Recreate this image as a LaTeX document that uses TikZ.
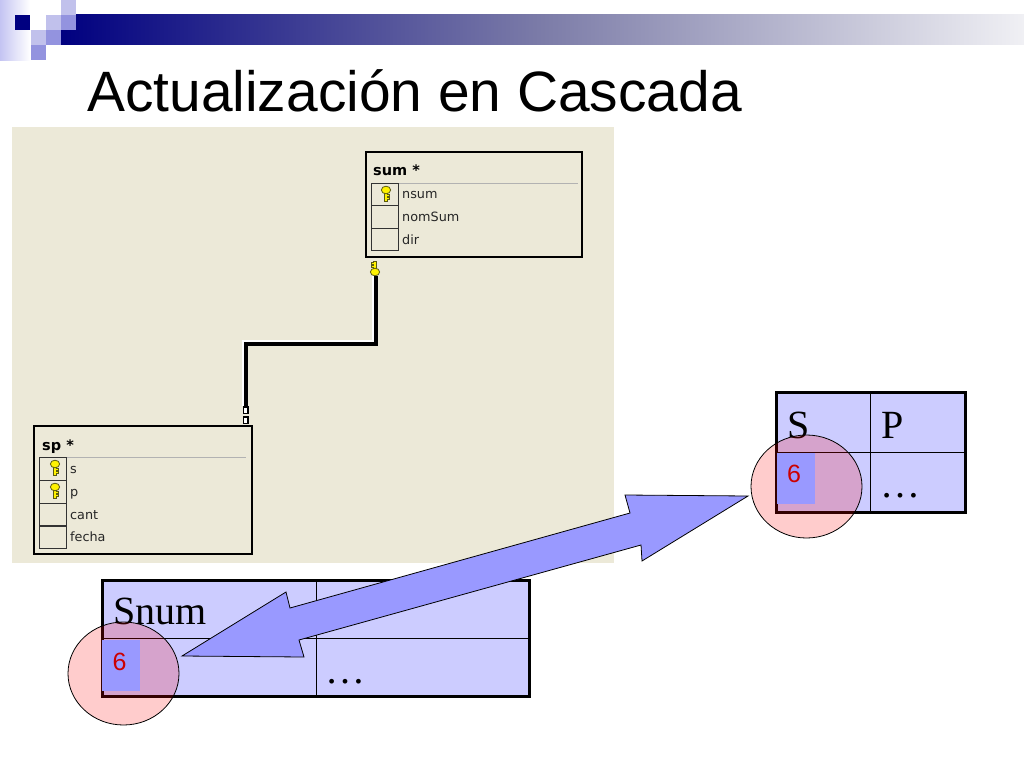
\documentclass[tikz,border=0pt]{standalone}
\usepackage{fontspec}
\newfontfamily\titlefont{Liberation Sans}
\newfontfamily\cellfont{Liberation Serif}
\newfontfamily\dbfont{DejaVu Sans}
\definecolor{navybar}{HTML}{000080}
\definecolor{barmid}{HTML}{7C7CA8}
\definecolor{barend}{HTML}{F0F0F4}
\definecolor{paleblue}{HTML}{CCCCFF}
\definecolor{midblue}{HTML}{9999FF}
\definecolor{panel}{HTML}{ECE9D8}
\definecolor{sixred}{HTML}{CC0000}
\definecolor{keyedge}{HTML}{5A5A10}
\tikzset{
  tablebox/.style={draw=black,line width=3pt,fill=paleblue,anchor=north west,inner sep=0pt,outer sep=0pt},
  dbbox/.style={draw=black,line width=1.2pt,anchor=north west,inner sep=0pt,outer sep=0pt},
  cellhead/.style={anchor=base west,inner sep=0pt,font=\cellfont\fontsize{40}{40}\selectfont},
  dbhead/.style={anchor=base west,inner sep=0pt,font=\dbfont\bfseries\fontsize{14.5}{15}\selectfont},
  dbrow/.style={anchor=base west,inner sep=0pt,font=\dbfont\fontsize{12.8}{14}\selectfont,text=black!85},
  ring/.style={draw=black,line width=.8pt,fill=red,fill opacity=.2,ellipse,inner sep=0pt,outer sep=0pt,minimum width=111pt,minimum height=103pt},
  valbox/.style={fill=midblue,anchor=north west,inner sep=0pt,outer sep=0pt,minimum width=38pt,minimum height=51pt},
  sixlabel/.style={inner sep=0pt,text=sixred,font=\titlefont\fontsize{25}{25}\selectfont},
  keyicon/.pic={
    \draw[draw=keyedge,fill=yellow,line width=.8pt] (-1.6,-1) -- (-1.6,8) -- (1.6,8) -- (1.6,6.5) -- (3.4,6.5) -- (3.4,4.6) -- (1.6,4.6) -- (1.6,3.4) -- (3.4,3.4) -- (3.4,1.6) -- (1.6,1.6) -- (1.6,-1) -- cycle;
    \draw[draw=keyedge,fill=yellow,line width=.8pt] (0,-3) ellipse (4.6 and 3.8);
  }
}
\usetikzlibrary{shapes.geometric}
\begin{document}
\begin{tikzpicture}[x=1pt,y=-1pt]
  \useasboundingbox (0,0) rectangle (1024,768);
  \shade[left color=paleblue!90!gray,right color=white] (0,0) rectangle (30,60);
  \shade[left color=navybar,right color=barend,middle color=barmid] (61,15) rectangle (1024,45);
  \fill[navybar] (15,15) rectangle (30,30);
  \fill[white] (30,15) rectangle (46,30);
  \fill[paleblue!85!gray] (46,15) rectangle (61,30);
  \fill[paleblue!85!gray] (61,0) rectangle (76,15);
  \fill[midblue!75!gray] (61,15) rectangle (76,30);
  \fill[paleblue!85!gray] (31,30) rectangle (46,45);
  \fill[midblue!75!gray] (46,30) rectangle (61,45);
  \fill[midblue!75!gray] (31,45) rectangle (46,60);
  \node (title) [anchor=base west,inner sep=0pt,font=\titlefont\fontsize{56.9}{60}\selectfont] at (87,111) {Actualización en Cascada};

  \fill[panel] (12,127) rectangle (614,563);
  \node (sumtab) [dbbox,minimum width=216pt,minimum height=105pt] at (366,152) {};
  \node (sumhead) [dbhead] at (373,175.5) {sum *};
  \draw[black!30,line width=1pt] (372,183) -- (578,183);
  \foreach \y in {183,205.5,228}
    \draw[black!80] (371,\y) rectangle (398,\y+22.5);
  \pic at (386,193) {keyicon};
  \node (nsum) [dbrow] at (402,198) {nsum};
  \node (nomsum) [dbrow] at (402,221) {nomSum};
  \node (dir) [dbrow] at (402,244) {dir};

  \node (sptab) [dbbox,minimum width=218pt,minimum height=128pt] at (34,426) {};
  \node (sphead) [dbhead] at (42,450) {sp *};
  \draw[black!30,line width=1pt] (40,457) -- (246,457);
  \foreach \y in {457,480,503,525.5}
    \draw[black!80] (39,\y) rectangle (66,\y+22.7);
  \pic at (55,467) {keyicon};
  \pic at (55,490) {keyicon};
  \node (s) [dbrow] at (70,473) {s};
  \node (p) [dbrow] at (70,496) {p};
  \node (cant) [dbrow] at (70,519) {cant};
  \node (fecha) [dbrow] at (70,541) {fecha};

  \coordinate (relsum) at (376,276);
  \coordinate (relsp) at (246,406);
  \draw[white,line width=1.2pt] ([shift={(-3,0)}]relsum) -- ++(0,65) -| ([shift={(-3,0)}]relsp);
  \draw[black,line width=4.3pt] (relsum) -- ++(0,68) -| (relsp);
  \pic[rotate=180] at (375,269) {keyicon};
  \foreach \y in {407,417}
    \draw[black,fill=white,line width=1.2pt] (243.5,\y) rectangle (248,\y+6.5);

  \node (snumtab) [tablebox,minimum width=427pt,minimum height=116pt] at (102,580) {};
  \node (snum) [cellhead] at (113,624) {Snum};
  \node (dotsa) [cellhead] at (325,683) {…};
  \draw[black,line width=1pt] (316,580) -- (316,696);
  \draw[black,line width=1pt] (102,638) -- (529,638);
  \node (ringa) [ring] at (123.5,673.5) {};
  \node (vala) [valbox] at (102,640) {};
  \node (sixa) [sixlabel] at (119.5,662) {6};

  \node (sptable) [tablebox,minimum width=189pt,minimum height=120pt] at (776,392) {};
  \node (shead) [cellhead] at (787,438) {S};
  \node (phead) [cellhead] at (881,438) {P};
  \node (dotsb) [cellhead] at (880,497) {…};
  \draw[black,line width=1pt] (870,392) -- (870,512);
  \draw[black,line width=1pt] (776,452) -- (965,452);
  \node (ringb) [ring] at (806.5,486.5) {};
  \node (valb) [valbox] at (777,453) {};
  \node (sixb) [sixlabel] at (794,474) {6};

  \draw[black,fill=midblue,line width=.8pt,line join=miter] (748,496) -- (625,495) -- (630,513) -- (290,608) -- (286,592) -- (182,656) -- (304,657) -- (299,640) -- (641,545) -- (642,561) -- cycle;
\end{tikzpicture}
\end{document}
